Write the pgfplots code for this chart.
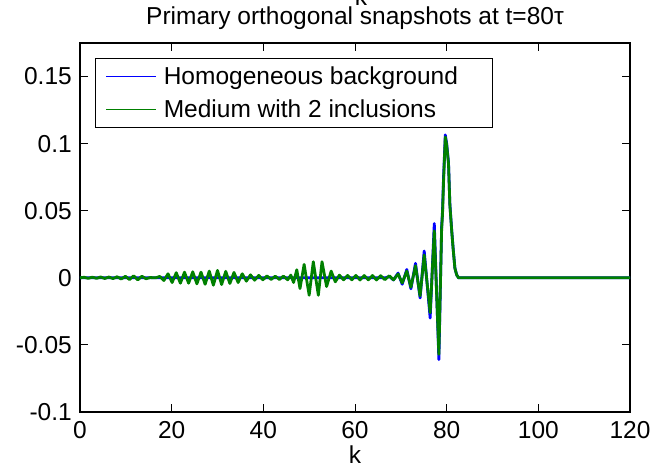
\documentclass[border=0pt]{standalone}
\usepackage{pgfplots}
\pgfplotsset{compat=1.18}
\usepackage{fontspec}
\setmainfont{Liberation Sans}
\definecolor{mgreen}{rgb}{0,0.5,0}
\begin{document}
\begin{tikzpicture}[font=\fontsize{24.5bp}{29bp}\selectfont]
\begin{axis}[
  name=ax,
  scale only axis,
  width=550bp, height=369bp,
  xmin=0, xmax=120, ymin=-0.1, ymax=0.175,
  xtick={0,20,40,60,80,100,120},
  xticklabels={0,20,40,60,80,100,120},
  ytick={-0.1,-0.05,0,0.05,0.1,0.15},
  yticklabels={-0.1,-0.05,0,0.05,0.1,0.15},
  tick align=inside,
  major tick length=8bp,
  every tick/.style={black, line width=1bp},
  axis line style={black, line width=1.2bp},
  xticklabel style={anchor=base, yshift=-26bp, inner sep=0pt},
  yticklabel style={anchor=east, xshift=-8bp, inner sep=0pt},
  xlabel={k},
  xlabel style={at={(axis description cs:0.5,0)}, anchor=base, yshift=-51bp, inner sep=0pt},
  title={Primary orthogonal snapshots at t=80τ},
  title style={at={(axis description cs:0.5,1)}, anchor=base, yshift=13bp, inner sep=0pt},
  legend cell align=left,
  legend style={at={(axis description cs:0,1)}, anchor=north west, xshift=15bp, yshift=-15bp,
    draw=black, line width=1bp, inner xsep=10bp, inner ysep=1.5bp, column sep=7bp,
    nodes={inner xsep=0pt, inner ysep=4bp, text height=21bp, text depth=4bp}},
  legend image code/.code={\draw[#1, line width=1.3bp] (0bp,0bp) -- (50bp,0bp);},
]
\addplot[blue, line width=2.8bp, line join=round] coordinates {
(0,0)(66.6,0)(67.5,0.0010)(68.4,-0.0016)(69.4,0.0035)(70.3,-0.0048)(71.3,0.0062)(72.2,-0.0082)(73.2,0.0108)(74.2,-0.0150)(75.1,0.0200)(76.4,-0.0300)(77.3,0.0405)(78.3,-0.0610)(78.9,0.038)(79.1,0.050)(79.3,0.073)(79.7,0.1065)(80.0,0.1000)(80.4,0.0860)(80.7,0.0550)(81.1,0.0355)(81.4,0.0225)(81.8,0.0072)(82.2,0.0021)(82.6,0)(120,0)
};
\addlegendentry{Homogeneous background\hspace*{24bp}}
\addplot[mgreen, line width=2.8bp, line join=round] coordinates {
(0,0)(0.9,0.0004)(1.8,-0.0004)(2.7,0.0005)(3.6,-0.0004)(4.5,0.0006)(5.4,-0.0005)(6.3,0.0006)(7.2,-0.0006)(8.1,0.0008)(9.0,-0.0009)(9.9,0.0011)(10.8,-0.0013)(11.7,0.0015)(12.6,-0.0016)(13.5,0.0012)(14.4,-0.0007)(15.3,0.0002)(16.5,0)(17.4,0.0010)(18.3,-0.0020)(19.2,0.0030)(20.1,-0.0035)(21.0,0.0038)(21.9,-0.0040)(22.8,0.0042)(23.7,-0.0040)(24.6,0.0045)(25.5,-0.0045)(26.4,0.0042)(27.3,-0.0048)(28.2,0.0050)(29.1,-0.0055)(30.0,0.0055)(30.9,-0.0050)(31.8,0.0048)(32.7,-0.0042)(33.6,0.0040)(34.5,-0.0035)(35.4,0.0030)(36.3,-0.0025)(37.2,0.0022)(38.1,-0.0018)(39.0,0.0018)(39.9,-0.0015)(40.8,0.0014)(41.7,-0.0012)(42.6,0.0012)(43.5,-0.0012)(44.4,0.0013)(45.3,-0.0015)(46.0,0.0020)(46.6,-0.0035)(47.3,0.0060)(48.0,-0.0080)(48.9,0.0100)(50.0,-0.0130)(50.9,0.0120)(52.0,-0.0130)(52.8,0.0120)(53.8,-0.0065)(54.8,0.0050)(55.7,-0.0030)(56.6,0.0020)(57.5,-0.0015)(58.4,0.0018)(59.3,-0.0015)(60.2,0.0018)(61.1,-0.0016)(62.0,0.0017)(62.9,-0.0015)(63.8,0.0017)(64.7,-0.0016)(65.6,0.0016)(66.5,-0.0014)(67.5,0.0015)(68.4,-0.0015)(69.4,0.0028)(70.3,-0.0038)(71.3,0.0050)(72.2,-0.0070)(73.2,0.0090)(74.2,-0.0135)(75.1,0.0170)(76.4,-0.0260)(77.3,0.0350)(78.3,-0.0570)(78.9,0.036)(79.1,0.048)(79.3,0.0700)(79.7,0.1050)(80.0,0.0990)(80.4,0.0850)(80.7,0.0540)(81.1,0.0350)(81.4,0.0220)(81.8,0.0070)(82.2,0.0020)(82.6,0)(120,0)
};
\addlegendentry{Medium with 2 inclusions}
\end{axis}
\pgfresetboundingbox
\path[use as bounding box] ([shift={(-80bp,-55bp)}]ax.south west) rectangle ([shift={(25bp,43bp)}]ax.north east);
\node[overlay, anchor=base, inner sep=0pt] at ([xshift=6bp, yshift=37bp]ax.north) {k};
\end{tikzpicture}
\end{document}
